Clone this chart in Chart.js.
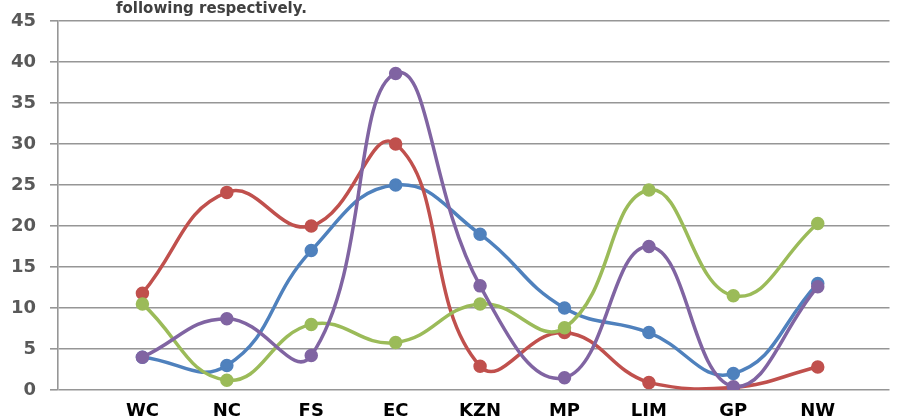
<!DOCTYPE html>
<html>
<head>
<meta charset="utf-8">
<script src="https://cdn.jsdelivr.net/npm/chart.js@4.4.0/dist/chart.umd.min.js"></script>
<style>
    html, body { margin: 0; padding: 0; background: #fff; }
    #wrap { width: 898px; height: 416px; }
</style>
</head>
<body>
<div id="wrap"><canvas id="chart1"></canvas></div>
<script>
// provinces along the x axis
var provinces = ["WC", "NC", "FS", "EC", "KZN", "MP", "LIM", "GP", "NW"];
var yTicks = [0, 5, 10, 15, 20, 25, 30, 35, 40, 45];

var blueSeries = [4, 3, 17, 25, 19, 10, 7, 2, 13];
var redSeries = [11.8, 24.1, 20, 30, 2.9, 7, 0.9, 0.3, 2.8];
var greenSeries = [10.5, 1.2, 8, 5.8, 10.5, 7.6, 24.4, 11.5, 20.3];
var purpleSeries = [4, 8.7, 4.2, 38.6, 12.7, 1.5, 17.5, 0.4, 12.6];

var headText = "following respectively.";

function toPoints(values) {
    //place each value on its province slot (1..9)
    return values.map(function (v, i) {
        return { x: i + 1, y: v };
    });
}

function makeSet(label, values, colour, order) {
    return {
        label: label,
        data: toPoints(values),
        borderColor: colour,
        backgroundColor: colour,
        borderWidth: 3.5,
        pointRadius: 5,
        pointHoverRadius: 5,
        tension: 0.45,
        order: order,
    };
}

var headPlugin = {
    id: "headText",
    afterDraw: function (chart) {
        var ctx = chart.ctx;
        ctx.save();
        ctx.font = "bold 15px 'DejaVu Sans'";
        ctx.fillStyle = "#404040";
        ctx.textBaseline = "alphabetic";
        ctx.fillText(headText, 116, 13);
        ctx.restore();
    }
};

var ctx = document.getElementById("chart1");
var chart = new Chart(ctx, {
    type: "line",
    data: {
        datasets: [
            makeSet("blue", blueSeries, "#4F81BD", 4),
            makeSet("red", redSeries, "#C0504D", 3),
            makeSet("green", greenSeries, "#9BBB59", 2),
            makeSet("purple", purpleSeries, "#8064A2", 1),
        ]
    },
    options: {
        responsive: true,
        maintainAspectRatio: false,
        animation: false,
        layout: { padding: { top: 21, right: 0, bottom: 0, left: 0 } },
        plugins: {
            legend: { display: false },
            tooltip: { enabled: false },
        },
        scales: {
            x: {
                type: "linear",
                min: 0,
                max: 9.85,
                afterBuildTicks: function (scale) {
                    scale.ticks = provinces.map(function (p, i) { return { value: i + 1 }; });
                },
                afterFit: function (scale) {
                    scale.height = 26;
                    scale.paddingLeft = 0;
                    scale.paddingRight = 0;
                },
                ticks: {
                    autoSkip: false,
                    maxRotation: 0,
                    padding: 11,
                    color: "#000",
                    font: { family: "'DejaVu Sans'", size: 18, weight: "bold" },
                    callback: function (value) {
                        return provinces[value - 1] || "";
                    }
                },
                grid: { display: false, drawTicks: false },
                border: { display: false },
            },
            y: {
                min: 0,
                max: 45,
                afterBuildTicks: function (scale) {
                    scale.ticks = yTicks.map(function (v) { return { value: v }; });
                },
                afterFit: function (scale) {
                    scale.width = 58;
                    scale.paddingTop = 0;
                    scale.paddingBottom = 0;
                },
                ticks: {
                    padding: 14,
                    color: "#595959",
                    font: { family: "'DejaVu Sans'", size: 18, weight: "bold" },
                },
                grid: {
                    color: "#969696",
                    lineWidth: 1.6,
                    tickLength: 8,
                },
                border: { display: true, color: "#969696", width: 1.6 },
            }
        }
    },
    plugins: [headPlugin]
});
</script>
</body>
</html>
